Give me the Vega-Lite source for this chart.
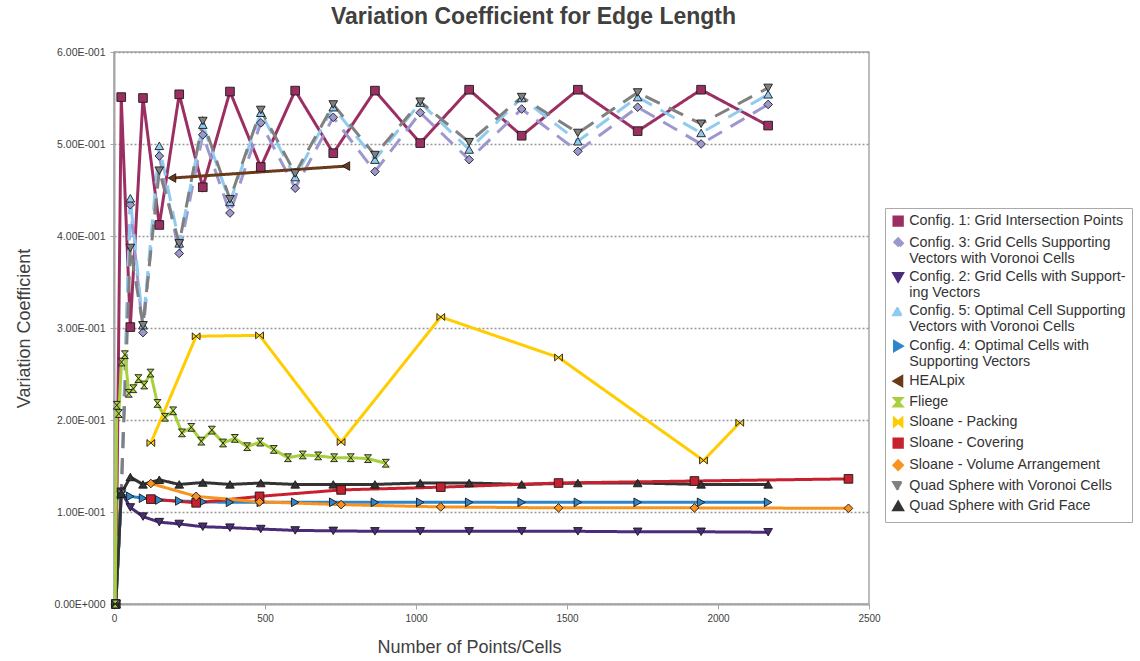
{
  "$schema": "https://vega.github.io/schema/vega-lite/v6.json",
  "width": 755,
  "height": 552,
  "autosize": "none",
  "padding": {"left": 114, "top": 52, "right": 271, "bottom": 57},
  "background": "white",
  "title": {"text": "Variation Coefficient for Edge Length", "font": "Liberation Sans", "fontSize": 23, "fontWeight": "bold", "color": "#404040", "anchor": "middle", "dx": 42, "offset": 18},
  "datasets": {
    "quad": [
      {"s": "Config. 1: Grid Intersection Points", "x": 6, "v": 0},
      {"s": "Config. 1: Grid Intersection Points", "x": 24, "v": 0.551},
      {"s": "Config. 1: Grid Intersection Points", "x": 54, "v": 0.301},
      {"s": "Config. 1: Grid Intersection Points", "x": 96, "v": 0.550},
      {"s": "Config. 1: Grid Intersection Points", "x": 150, "v": 0.412},
      {"s": "Config. 1: Grid Intersection Points", "x": 216, "v": 0.554},
      {"s": "Config. 1: Grid Intersection Points", "x": 294, "v": 0.453},
      {"s": "Config. 1: Grid Intersection Points", "x": 384, "v": 0.557},
      {"s": "Config. 1: Grid Intersection Points", "x": 486, "v": 0.475},
      {"s": "Config. 1: Grid Intersection Points", "x": 600, "v": 0.558},
      {"s": "Config. 1: Grid Intersection Points", "x": 726, "v": 0.490},
      {"s": "Config. 1: Grid Intersection Points", "x": 864, "v": 0.558},
      {"s": "Config. 1: Grid Intersection Points", "x": 1014, "v": 0.501},
      {"s": "Config. 1: Grid Intersection Points", "x": 1176, "v": 0.559},
      {"s": "Config. 1: Grid Intersection Points", "x": 1350, "v": 0.509},
      {"s": "Config. 1: Grid Intersection Points", "x": 1536, "v": 0.559},
      {"s": "Config. 1: Grid Intersection Points", "x": 1734, "v": 0.514},
      {"s": "Config. 1: Grid Intersection Points", "x": 1944, "v": 0.559},
      {"s": "Config. 1: Grid Intersection Points", "x": 2166, "v": 0.520},

      {"s": "Config. 3: Grid Cells Supporting Vectors with Voronoi Cells", "x": 6, "v": 0},
      {"s": "Config. 3: Grid Cells Supporting Vectors with Voronoi Cells", "x": 24, "v": 0.122},
      {"s": "Config. 3: Grid Cells Supporting Vectors with Voronoi Cells", "x": 54, "v": 0.434},
      {"s": "Config. 3: Grid Cells Supporting Vectors with Voronoi Cells", "x": 96, "v": 0.295},
      {"s": "Config. 3: Grid Cells Supporting Vectors with Voronoi Cells", "x": 150, "v": 0.487},
      {"s": "Config. 3: Grid Cells Supporting Vectors with Voronoi Cells", "x": 216, "v": 0.381},
      {"s": "Config. 3: Grid Cells Supporting Vectors with Voronoi Cells", "x": 294, "v": 0.510},
      {"s": "Config. 3: Grid Cells Supporting Vectors with Voronoi Cells", "x": 384, "v": 0.425},
      {"s": "Config. 3: Grid Cells Supporting Vectors with Voronoi Cells", "x": 486, "v": 0.523},
      {"s": "Config. 3: Grid Cells Supporting Vectors with Voronoi Cells", "x": 600, "v": 0.452},
      {"s": "Config. 3: Grid Cells Supporting Vectors with Voronoi Cells", "x": 726, "v": 0.529},
      {"s": "Config. 3: Grid Cells Supporting Vectors with Voronoi Cells", "x": 864, "v": 0.470},
      {"s": "Config. 3: Grid Cells Supporting Vectors with Voronoi Cells", "x": 1014, "v": 0.534},
      {"s": "Config. 3: Grid Cells Supporting Vectors with Voronoi Cells", "x": 1176, "v": 0.483},
      {"s": "Config. 3: Grid Cells Supporting Vectors with Voronoi Cells", "x": 1350, "v": 0.538},
      {"s": "Config. 3: Grid Cells Supporting Vectors with Voronoi Cells", "x": 1536, "v": 0.492},
      {"s": "Config. 3: Grid Cells Supporting Vectors with Voronoi Cells", "x": 1734, "v": 0.540},
      {"s": "Config. 3: Grid Cells Supporting Vectors with Voronoi Cells", "x": 1944, "v": 0.500},
      {"s": "Config. 3: Grid Cells Supporting Vectors with Voronoi Cells", "x": 2166, "v": 0.543},

      {"s": "Config. 2: Grid Cells with Supporting Vectors", "x": 6, "v": 0},
      {"s": "Config. 2: Grid Cells with Supporting Vectors", "x": 24, "v": 0.122},
      {"s": "Config. 2: Grid Cells with Supporting Vectors", "x": 54, "v": 0.105},
      {"s": "Config. 2: Grid Cells with Supporting Vectors", "x": 96, "v": 0.095},
      {"s": "Config. 2: Grid Cells with Supporting Vectors", "x": 150, "v": 0.089},
      {"s": "Config. 2: Grid Cells with Supporting Vectors", "x": 216, "v": 0.087},
      {"s": "Config. 2: Grid Cells with Supporting Vectors", "x": 294, "v": 0.084},
      {"s": "Config. 2: Grid Cells with Supporting Vectors", "x": 384, "v": 0.083},
      {"s": "Config. 2: Grid Cells with Supporting Vectors", "x": 486, "v": 0.0815},
      {"s": "Config. 2: Grid Cells with Supporting Vectors", "x": 600, "v": 0.080},
      {"s": "Config. 2: Grid Cells with Supporting Vectors", "x": 726, "v": 0.0795},
      {"s": "Config. 2: Grid Cells with Supporting Vectors", "x": 864, "v": 0.079},
      {"s": "Config. 2: Grid Cells with Supporting Vectors", "x": 1014, "v": 0.079},
      {"s": "Config. 2: Grid Cells with Supporting Vectors", "x": 1176, "v": 0.079},
      {"s": "Config. 2: Grid Cells with Supporting Vectors", "x": 1350, "v": 0.079},
      {"s": "Config. 2: Grid Cells with Supporting Vectors", "x": 1536, "v": 0.079},
      {"s": "Config. 2: Grid Cells with Supporting Vectors", "x": 1734, "v": 0.0785},
      {"s": "Config. 2: Grid Cells with Supporting Vectors", "x": 1944, "v": 0.0785},
      {"s": "Config. 2: Grid Cells with Supporting Vectors", "x": 2166, "v": 0.078},

      {"s": "Config. 5: Optimal Cell Supporting Vectors with Voronoi Cells", "x": 6, "v": 0},
      {"s": "Config. 5: Optimal Cell Supporting Vectors with Voronoi Cells", "x": 24, "v": 0.120},
      {"s": "Config. 5: Optimal Cell Supporting Vectors with Voronoi Cells", "x": 54, "v": 0.441},
      {"s": "Config. 5: Optimal Cell Supporting Vectors with Voronoi Cells", "x": 96, "v": 0.303},
      {"s": "Config. 5: Optimal Cell Supporting Vectors with Voronoi Cells", "x": 150, "v": 0.498},
      {"s": "Config. 5: Optimal Cell Supporting Vectors with Voronoi Cells", "x": 216, "v": 0.392},
      {"s": "Config. 5: Optimal Cell Supporting Vectors with Voronoi Cells", "x": 294, "v": 0.521},
      {"s": "Config. 5: Optimal Cell Supporting Vectors with Voronoi Cells", "x": 384, "v": 0.437},
      {"s": "Config. 5: Optimal Cell Supporting Vectors with Voronoi Cells", "x": 486, "v": 0.534},
      {"s": "Config. 5: Optimal Cell Supporting Vectors with Voronoi Cells", "x": 600, "v": 0.464},
      {"s": "Config. 5: Optimal Cell Supporting Vectors with Voronoi Cells", "x": 726, "v": 0.540},
      {"s": "Config. 5: Optimal Cell Supporting Vectors with Voronoi Cells", "x": 864, "v": 0.483},
      {"s": "Config. 5: Optimal Cell Supporting Vectors with Voronoi Cells", "x": 1014, "v": 0.545},
      {"s": "Config. 5: Optimal Cell Supporting Vectors with Voronoi Cells", "x": 1176, "v": 0.494},
      {"s": "Config. 5: Optimal Cell Supporting Vectors with Voronoi Cells", "x": 1350, "v": 0.550},
      {"s": "Config. 5: Optimal Cell Supporting Vectors with Voronoi Cells", "x": 1536, "v": 0.503},
      {"s": "Config. 5: Optimal Cell Supporting Vectors with Voronoi Cells", "x": 1734, "v": 0.551},
      {"s": "Config. 5: Optimal Cell Supporting Vectors with Voronoi Cells", "x": 1944, "v": 0.512},
      {"s": "Config. 5: Optimal Cell Supporting Vectors with Voronoi Cells", "x": 2166, "v": 0.554},

      {"s": "Config. 4: Optimal Cells with Supporting Vectors", "x": 6, "v": 0},
      {"s": "Config. 4: Optimal Cells with Supporting Vectors", "x": 24, "v": 0.1185},
      {"s": "Config. 4: Optimal Cells with Supporting Vectors", "x": 54, "v": 0.117},
      {"s": "Config. 4: Optimal Cells with Supporting Vectors", "x": 96, "v": 0.115},
      {"s": "Config. 4: Optimal Cells with Supporting Vectors", "x": 150, "v": 0.113},
      {"s": "Config. 4: Optimal Cells with Supporting Vectors", "x": 216, "v": 0.112},
      {"s": "Config. 4: Optimal Cells with Supporting Vectors", "x": 294, "v": 0.111},
      {"s": "Config. 4: Optimal Cells with Supporting Vectors", "x": 384, "v": 0.1105},
      {"s": "Config. 4: Optimal Cells with Supporting Vectors", "x": 486, "v": 0.1105},
      {"s": "Config. 4: Optimal Cells with Supporting Vectors", "x": 600, "v": 0.1105},
      {"s": "Config. 4: Optimal Cells with Supporting Vectors", "x": 726, "v": 0.1105},
      {"s": "Config. 4: Optimal Cells with Supporting Vectors", "x": 864, "v": 0.1105},
      {"s": "Config. 4: Optimal Cells with Supporting Vectors", "x": 1014, "v": 0.1105},
      {"s": "Config. 4: Optimal Cells with Supporting Vectors", "x": 1176, "v": 0.1105},
      {"s": "Config. 4: Optimal Cells with Supporting Vectors", "x": 1350, "v": 0.1105},
      {"s": "Config. 4: Optimal Cells with Supporting Vectors", "x": 1536, "v": 0.1105},
      {"s": "Config. 4: Optimal Cells with Supporting Vectors", "x": 1734, "v": 0.1105},
      {"s": "Config. 4: Optimal Cells with Supporting Vectors", "x": 1944, "v": 0.1105},
      {"s": "Config. 4: Optimal Cells with Supporting Vectors", "x": 2166, "v": 0.1105},

      {"s": "Quad Sphere with Voronoi Cells", "x": 6, "v": 0},
      {"s": "Quad Sphere with Voronoi Cells", "x": 24, "v": 0.120},
      {"s": "Quad Sphere with Voronoi Cells", "x": 54, "v": 0.387},
      {"s": "Quad Sphere with Voronoi Cells", "x": 96, "v": 0.303},
      {"s": "Quad Sphere with Voronoi Cells", "x": 150, "v": 0.471},
      {"s": "Quad Sphere with Voronoi Cells", "x": 216, "v": 0.392},
      {"s": "Quad Sphere with Voronoi Cells", "x": 294, "v": 0.525},
      {"s": "Quad Sphere with Voronoi Cells", "x": 384, "v": 0.440},
      {"s": "Quad Sphere with Voronoi Cells", "x": 486, "v": 0.537},
      {"s": "Quad Sphere with Voronoi Cells", "x": 600, "v": 0.468},
      {"s": "Quad Sphere with Voronoi Cells", "x": 726, "v": 0.543},
      {"s": "Quad Sphere with Voronoi Cells", "x": 864, "v": 0.488},
      {"s": "Quad Sphere with Voronoi Cells", "x": 1014, "v": 0.546},
      {"s": "Quad Sphere with Voronoi Cells", "x": 1176, "v": 0.502},
      {"s": "Quad Sphere with Voronoi Cells", "x": 1350, "v": 0.551},
      {"s": "Quad Sphere with Voronoi Cells", "x": 1536, "v": 0.512},
      {"s": "Quad Sphere with Voronoi Cells", "x": 1734, "v": 0.556},
      {"s": "Quad Sphere with Voronoi Cells", "x": 1944, "v": 0.522},
      {"s": "Quad Sphere with Voronoi Cells", "x": 2166, "v": 0.561},

      {"s": "Quad Sphere with Grid Face", "x": 6, "v": 0},
      {"s": "Quad Sphere with Grid Face", "x": 24, "v": 0.120},
      {"s": "Quad Sphere with Grid Face", "x": 54, "v": 0.138},
      {"s": "Quad Sphere with Grid Face", "x": 96, "v": 0.130},
      {"s": "Quad Sphere with Grid Face", "x": 150, "v": 0.135},
      {"s": "Quad Sphere with Grid Face", "x": 216, "v": 0.130},
      {"s": "Quad Sphere with Grid Face", "x": 294, "v": 0.132},
      {"s": "Quad Sphere with Grid Face", "x": 384, "v": 0.130},
      {"s": "Quad Sphere with Grid Face", "x": 486, "v": 0.1315},
      {"s": "Quad Sphere with Grid Face", "x": 600, "v": 0.130},
      {"s": "Quad Sphere with Grid Face", "x": 726, "v": 0.130},
      {"s": "Quad Sphere with Grid Face", "x": 864, "v": 0.130},
      {"s": "Quad Sphere with Grid Face", "x": 1014, "v": 0.1315},
      {"s": "Quad Sphere with Grid Face", "x": 1176, "v": 0.1315},
      {"s": "Quad Sphere with Grid Face", "x": 1350, "v": 0.130},
      {"s": "Quad Sphere with Grid Face", "x": 1536, "v": 0.1315},
      {"s": "Quad Sphere with Grid Face", "x": 1734, "v": 0.1315},
      {"s": "Quad Sphere with Grid Face", "x": 1944, "v": 0.130},
      {"s": "Quad Sphere with Grid Face", "x": 2166, "v": 0.130},

      {"s": "HEALpix", "x": 192, "v": 0.463},
      {"s": "HEALpix", "x": 768, "v": 0.476},

      {"s": "Fliege", "x": 4, "v": 0},
      {"s": "Fliege", "x": 9, "v": 0.216},
      {"s": "Fliege", "x": 16, "v": 0.207},
      {"s": "Fliege", "x": 25, "v": 0.263},
      {"s": "Fliege", "x": 36, "v": 0.271},
      {"s": "Fliege", "x": 49, "v": 0.229},
      {"s": "Fliege", "x": 64, "v": 0.234},
      {"s": "Fliege", "x": 81, "v": 0.245},
      {"s": "Fliege", "x": 100, "v": 0.238},
      {"s": "Fliege", "x": 121, "v": 0.251},
      {"s": "Fliege", "x": 144, "v": 0.218},
      {"s": "Fliege", "x": 169, "v": 0.203},
      {"s": "Fliege", "x": 196, "v": 0.210},
      {"s": "Fliege", "x": 225, "v": 0.186},
      {"s": "Fliege", "x": 256, "v": 0.192},
      {"s": "Fliege", "x": 289, "v": 0.177},
      {"s": "Fliege", "x": 324, "v": 0.189},
      {"s": "Fliege", "x": 361, "v": 0.175},
      {"s": "Fliege", "x": 400, "v": 0.180},
      {"s": "Fliege", "x": 441, "v": 0.171},
      {"s": "Fliege", "x": 484, "v": 0.176},
      {"s": "Fliege", "x": 529, "v": 0.168},
      {"s": "Fliege", "x": 576, "v": 0.159},
      {"s": "Fliege", "x": 625, "v": 0.162},
      {"s": "Fliege", "x": 676, "v": 0.161},
      {"s": "Fliege", "x": 729, "v": 0.159},
      {"s": "Fliege", "x": 784, "v": 0.159},
      {"s": "Fliege", "x": 841, "v": 0.158},
      {"s": "Fliege", "x": 900, "v": 0.153},

      {"s": "Sloane - Packing", "x": 122, "v": 0.175},
      {"s": "Sloane - Packing", "x": 272, "v": 0.291},
      {"s": "Sloane - Packing", "x": 482, "v": 0.292},
      {"s": "Sloane - Packing", "x": 752, "v": 0.176},
      {"s": "Sloane - Packing", "x": 1082, "v": 0.312},
      {"s": "Sloane - Packing", "x": 1472, "v": 0.268},
      {"s": "Sloane - Packing", "x": 1952, "v": 0.156},
      {"s": "Sloane - Packing", "x": 2072, "v": 0.197},

      {"s": "Sloane - Covering", "x": 122, "v": 0.114},
      {"s": "Sloane - Covering", "x": 272, "v": 0.110},
      {"s": "Sloane - Covering", "x": 482, "v": 0.117},
      {"s": "Sloane - Covering", "x": 752, "v": 0.124},
      {"s": "Sloane - Covering", "x": 1082, "v": 0.127},
      {"s": "Sloane - Covering", "x": 1472, "v": 0.1315},
      {"s": "Sloane - Covering", "x": 1922, "v": 0.1337},
      {"s": "Sloane - Covering", "x": 2432, "v": 0.136},

      {"s": "Sloane - Volume Arrangement", "x": 122, "v": 0.131},
      {"s": "Sloane - Volume Arrangement", "x": 272, "v": 0.117},
      {"s": "Sloane - Volume Arrangement", "x": 482, "v": 0.111},
      {"s": "Sloane - Volume Arrangement", "x": 752, "v": 0.108},
      {"s": "Sloane - Volume Arrangement", "x": 1082, "v": 0.1055},
      {"s": "Sloane - Volume Arrangement", "x": 1472, "v": 0.1045},
      {"s": "Sloane - Volume Arrangement", "x": 1922, "v": 0.1045},
      {"s": "Sloane - Volume Arrangement", "x": 2432, "v": 0.104}
    ]
  },
  "data": {"name": "quad"},
  "encoding": {
    "x": {"field": "x", "type": "quantitative", "scale": {"domain": [0, 2500], "nice": false},
      "axis": {"title": "Number of Points/Cells", "values": [0, 500, 1000, 1500, 2000, 2500], "format": "d", "grid": false, "titlePadding": 15, "titleFontSize": 18, "titleFontWeight": "normal", "titleColor": "#404040", "titleFont": "Liberation Sans", "titleX": 355, "labelFontSize": 10, "labelFont": "Liberation Sans", "labelColor": "#404040", "tickSize": 5, "labelPadding": 4, "labelFlush": false}},
    "y": {"field": "v", "type": "quantitative", "scale": {"domain": [0, 0.6], "nice": false},
      "axis": {"title": "Variation Coefficient", "values": [0, 0.1, 0.2, 0.3, 0.4, 0.5, 0.6], "labelExpr": "datum.value == 0 ? '0.00E+000' : format(datum.value*10, '.2f') + 'E-001'", "grid": true, "gridDash": [2, 2], "gridColor": "#999999", "gridWidth": 1.5, "titlePadding": 20, "titleFontSize": 18, "titleFontWeight": "normal", "titleColor": "#404040", "titleFont": "Liberation Sans", "labelFontSize": 10.5, "labelFont": "Liberation Sans", "labelColor": "#404040", "tickSize": 4, "labelPadding": 5}}
  },
  "layer": [
    {
      "mark": {"type": "line", "strokeCap": "butt"},
      "encoding": {
        "color": {"field": "s", "type": "nominal", "scale": {"domain": ["Config. 1: Grid Intersection Points", "Config. 3: Grid Cells Supporting Vectors with Voronoi Cells", "Config. 2: Grid Cells with Supporting Vectors", "Config. 5: Optimal Cell Supporting Vectors with Voronoi Cells", "Config. 4: Optimal Cells with Supporting Vectors", "HEALpix", "Fliege", "Sloane - Packing", "Sloane - Covering", "Sloane - Volume Arrangement", "Quad Sphere with Voronoi Cells", "Quad Sphere with Grid Face"], "range": ["#9c2f62", "#9d97cf", "#4b2c7a", "#8ecbef", "#2e86c8", "#6b3a18", "#a9cf3c", "#ffcc00", "#c8202e", "#f7931e", "#808080", "#333333"]}},
        "strokeDash": {"field": "s", "type": "nominal", "scale": {"domain": ["Config. 1: Grid Intersection Points", "Config. 3: Grid Cells Supporting Vectors with Voronoi Cells", "Config. 2: Grid Cells with Supporting Vectors", "Config. 5: Optimal Cell Supporting Vectors with Voronoi Cells", "Config. 4: Optimal Cells with Supporting Vectors", "HEALpix", "Fliege", "Sloane - Packing", "Sloane - Covering", "Sloane - Volume Arrangement", "Quad Sphere with Voronoi Cells", "Quad Sphere with Grid Face"], "range": [[1, 0], [16, 10], [1, 0], [16, 10], [1, 0], [1, 0], [1, 0], [1, 0], [1, 0], [1, 0], [16, 10], [1, 0]]}, "legend": null},
        "strokeWidth": {"field": "s", "type": "nominal", "scale": {"domain": ["Config. 1: Grid Intersection Points", "Config. 3: Grid Cells Supporting Vectors with Voronoi Cells", "Config. 2: Grid Cells with Supporting Vectors", "Config. 5: Optimal Cell Supporting Vectors with Voronoi Cells", "Config. 4: Optimal Cells with Supporting Vectors", "HEALpix", "Fliege", "Sloane - Packing", "Sloane - Covering", "Sloane - Volume Arrangement", "Quad Sphere with Voronoi Cells", "Quad Sphere with Grid Face"], "range": [3, 3, 3, 3, 5, 3, 3, 3, 3, 3, 3, 3]}, "legend": null},
        "order": {"field": "x", "type": "quantitative"}
      }
    },
    {
      "mark": {"type": "point", "filled": true, "stroke": "#1a1a1a", "strokeWidth": 0.9, "opacity": 1, "size": 75},
      "encoding": {
        "color": {"field": "s", "type": "nominal", "legend": {"title": null, "orient": "none", "legendX": 771, "legendY": 156, "strokeColor": "#aaaaaa", "padding": 6, "labelFontSize": 14.3, "labelFont": "Liberation Sans", "labelColor": "#333333", "labelLimit": 400, "symbolSize": 70, "rowPadding": 0, "labelExpr": "datum.label == 'Config. 3: Grid Cells Supporting Vectors with Voronoi Cells' ? ['Config. 3: Grid Cells Supporting', 'Vectors with Voronoi Cells'] : datum.label == 'Config. 2: Grid Cells with Supporting Vectors' ? ['Config. 2: Grid Cells with Support-', 'ing Vectors'] : datum.label == 'Config. 5: Optimal Cell Supporting Vectors with Voronoi Cells' ? ['Config. 5: Optimal Cell Supporting', 'Vectors with Voronoi Cells'] : datum.label == 'Config. 4: Optimal Cells with Supporting Vectors' ? ['Config. 4: Optimal Cells with', 'Supporting Vectors'] : datum.label", "symbolStrokeColor": "#1a1a1a", "symbolStrokeWidth": 0.9}},
        "shape": {"field": "s", "type": "nominal", "scale": {"domain": ["Config. 1: Grid Intersection Points", "Config. 3: Grid Cells Supporting Vectors with Voronoi Cells", "Config. 2: Grid Cells with Supporting Vectors", "Config. 5: Optimal Cell Supporting Vectors with Voronoi Cells", "Config. 4: Optimal Cells with Supporting Vectors", "HEALpix", "Fliege", "Sloane - Packing", "Sloane - Covering", "Sloane - Volume Arrangement", "Quad Sphere with Voronoi Cells", "Quad Sphere with Grid Face"], "range": ["square", "diamond", "triangle-down", "triangle-up", "triangle-right", "triangle-left", "M-0.8,-0.9L0.8,-0.9L-0.8,0.9L0.8,0.9Z", "M-0.9,-0.8L0.9,0.8L0.9,-0.8L-0.9,0.8Z", "square", "diamond", "triangle-down", "triangle-up"]}}
      }
    }
  ],
  "config": {
    "view": {"stroke": "#a6a6a6", "strokeWidth": 1.5},
    "axis": {"domainColor": "#a6a6a6", "domainWidth": 2, "tickColor": "#a6a6a6", "tickWidth": 1}
  }
}
